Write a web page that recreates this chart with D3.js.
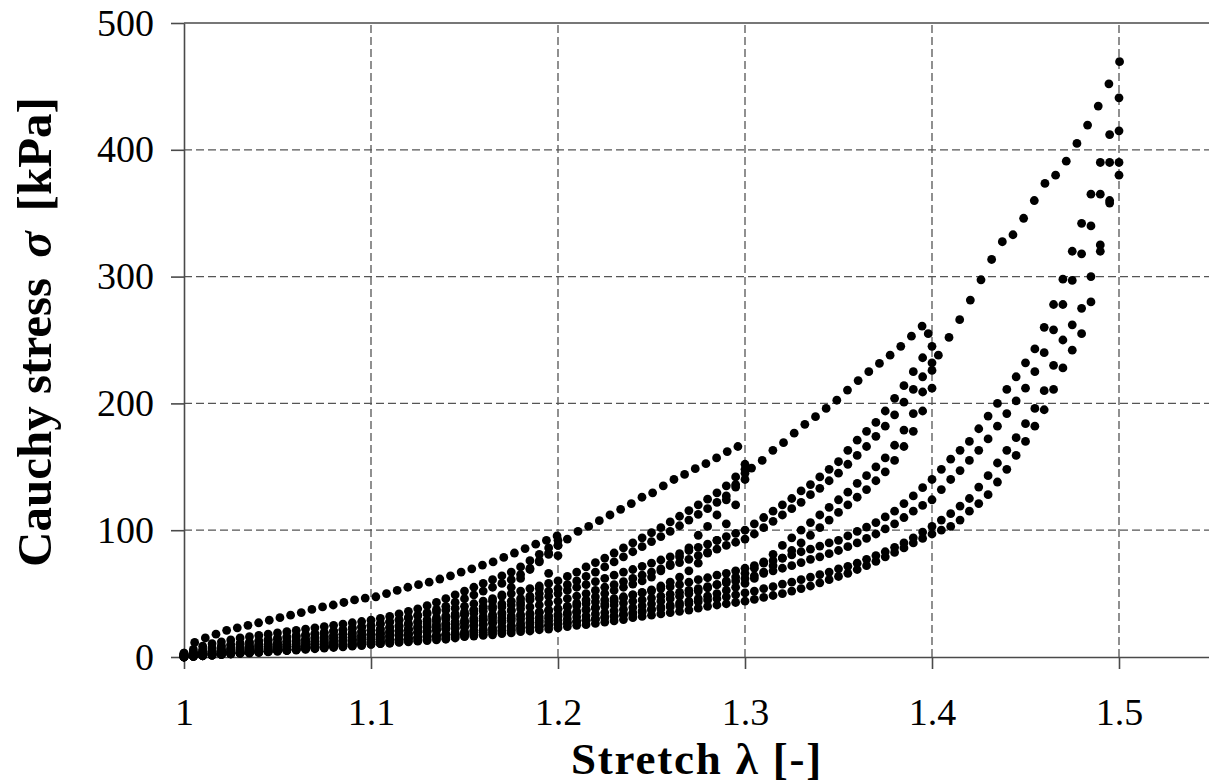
<!DOCTYPE html>
<html>
<head>
<meta charset="utf-8">
<script src="https://cdn.jsdelivr.net/npm/d3@7"></script>
<style>
  body { margin: 0; background: #fff; }
  svg { display: block; }
  .tick text { font-family: "Liberation Serif", "Times New Roman", serif; fill: #000; }
</style>
</head>
<body>
<svg id="chart" width="1209" height="784"></svg>
<script>
// first (virgin) loading, read dot by dot
var virginStretch = [1.0000,1.0057,1.0114,1.0171,1.0228,1.0285,1.0342,1.0399,1.0456,1.0513,
  1.0570,1.0627,1.0684,1.0741,1.0798,1.0855,1.0912,1.0969,1.1026,1.1083,
  1.1140,1.1197,1.1254,1.1311,1.1368,1.1425,1.1482,1.1539,1.1596,1.1653,
  1.1710,1.1767,1.1824,1.1881,1.1938,1.1995,
  1.2050,1.2107,1.2164,1.2221,1.2278,1.2335,1.2392,1.2449,1.2506,1.2563,
  1.2620,1.2677,1.2734,1.2791,1.2848,1.2905,1.2962,
  1.3035,1.3092,1.3149,1.3206,1.3263,1.3320,1.3377,1.3434,1.3491,1.3548,
  1.3605,1.3662,1.3719,1.3776,1.3833,1.3890,1.3947,1.3980,
  1.4034,1.4091,1.4148,1.4205,1.4262,1.4319,1.4376,1.4433,1.4490,1.4547,
  1.4604,1.4661,1.4718,1.4775,1.4832,1.4889,1.4946,1.5003];
var virginStress = [3,11.5,15,18,21,23,25,27,29,31,
  33,35,37.5,39.5,41,43,45,46.5,47.5,50,
  52.5,55,57,59,61.5,64,67,69.5,72.5,75,
  78.5,82,85.5,89,92,95.5,
  93,99,103,107.5,112,116.5,121,126,129.5,135,
  140,144,148.5,152.5,157,162,166,
  149,155,163,169,176.5,183.5,189.5,196,202.5,210.5,
  218,225,231.5,238,245,253,261,255,
  238,252,266,281.5,297.5,313.5,327.5,333,346,360,
  373.5,380,391,405,419.5,434.5,452,469.5];

// stretch values of the later load / unload cycles
var stretch = [1.000,1.005,1.010,1.015,1.020,1.025,1.030,1.035,1.040,1.045,
  1.050,1.055,1.060,1.065,1.070,1.075,1.080,1.085,1.090,1.095,
  1.100,1.105,1.110,1.115,1.120,1.125,1.130,1.135,1.140,1.145,
  1.150,1.155,1.160,1.165,1.170,1.175,1.180,1.185,1.190,1.195,
  1.200,1.205,1.210,1.215,1.220,1.225,1.230,1.235,1.240,1.245,
  1.250,1.255,1.260,1.265,1.270,1.275,1.280,1.285,1.290,1.295,
  1.300,1.305,1.310,1.315,1.320,1.325,1.330,1.335,1.340,1.345,
  1.350,1.355,1.360,1.365,1.370,1.375,1.380,1.385,1.390,1.395,
  1.400,1.405,1.410,1.415,1.420,1.425,1.430,1.435,1.440,1.445,
  1.450,1.455,1.460,1.465,1.470,1.475,1.480,1.485,1.490,1.495,1.500];

// cycles up to 1.2
var reload12a = [3,6,8.5,10.5,12,13.5,15,16,17,18,19,20,21,22,23,24,25,26,27,28,
  29,30.5,32,34,36,38,40.5,43,46,49,52,55,58,61,64,67,71,76,81,86,92];
var reload12b = [2,4,6,7.5,9,10,11,12,13,14,15,16,17,17.5,18.5,19.5,20.5,21.5,22.5,23.5,
  24.5,26,27.5,29,31,33,35,37.5,40,43,46,49,52,55,58,61,65,70,75,81,88];
var unload12a = [1,2,2.5,3,3.5,4,5,5.5,6,6.5,7,8,8.5,9,10,11,12,13,14,15.5,
  17,18,19,20.5,22,24,26,28,30,32,34,37,40,44,49,55,62,69,76,82,88];
var unload12b = [0,1,1.5,2,2.5,3,3.5,4,4.5,5,5.5,6,6.5,7,8,9,10,11,12,13,
  14,15,16,17,18,19.5,21,22.5,24,25.5,27,28.5,30,32,34,37,41,46,54,66,80];

// cycles up to 1.3
var reload13a = [2,3.5,5,6.5,8,9,10,11,12,13,14,15,16,17,18,19,20.5,21.5,23,24,
  25,26.5,28,29.5,31,32.5,34,35.5,37,38.5,40,42,44,46,48,50,52,54,56,58,
  60,63.5,67,71,74.5,78,82,86,90,94,98,102,106.5,111,115.5,120,124.5,129.5,135,142,152];
var reload13b = [1,2.5,3.5,4.5,5.5,6.5,7.5,8.5,9.5,10.5,11.5,12.5,13.5,14,15,16,17,18,19,20,
  21,22,23.5,25,26.5,28,29.5,31,32.5,34,35.5,37,38.5,40,42,44,46,48,50,52,
  54,57,60,63.5,67,71,75,79,83,87,91,95,99,103.5,108,112.5,117,122,127,134,145];
var unload13a = [1,1.5,2,2.5,3,3.5,4,5,5.5,6,7,7.5,8,9,10,10.5,11,12,13,13.5,
  14,15,16,17,18,19,20,21,22,23,24,25,26,27.5,29,30.5,32,33.5,35,36.5,
  38,40,42.5,45,47.5,50,52.5,55,57.5,60,63,68,73,79,86,96,103,112,124,136,148];
var unload13b = [0,1,1.5,2,2.5,3,3.5,4,4.5,5,5.5,6,7,7.5,8,8.5,9,10,10.5,11,
  12,12.5,13.5,14,15,15.5,16.5,17,18,19,20,21,22,23,24,25,26.5,27.5,29,30.5,
  32,33.5,35,37,39,42,44,46.5,49,51,53,56,59,63,68,74,82,92,105,120,140];

// cycles up to 1.4
var reload14a = [2,3,4,5,6,7,8,8.5,9.5,10,11,12,13,14,15,16,17,18,19,20,
  21,22,23,24,25.5,27,28,29.5,31,32,33,34.5,36,38,39.5,41,43,45,46.5,48,
  50,52.5,55,57,59.5,62,64.5,67,69,71.5,74,76.5,79,81.5,84,86.5,89,92,95,97.5,
  100,105,110,115,120,125,131,136,142,148,154,163,171,178,185,194,204,214,225,236,245];
var reload14b = [1,2,3,4,5,5.5,6.5,7,8,8.5,9.5,10,11,12,12.5,13.5,14.5,15.5,16.5,17,
  18,19,20,21,22,23,24,25.5,26.5,28,29,30.5,32,33.5,35,36.5,38,39.5,41,42.5,
  44,46,48,50,52.5,55,57,59.5,62,64.5,67,69.5,72,74.5,77,80,82.5,85,88,90.5,
  93,97,102,107,112,117,122,128,133,139,145,152,159,166,174,182,191,201,211,221,232];
var unload14a = [0,0.5,1,1.5,2,2.5,3,3.5,4,4.5,5,5.5,6,6.5,7.5,8,8.5,9.5,10,10.5,
  11,12,13,13.5,14.5,15,16,17,17.5,18,19,20,21,22,23,24,25,26,27,28,
  29,30,31.5,32.5,34,35,36.5,37.5,39,40.5,42,44,46,48,50,52,54.5,57,60,63,
  66,70,75,81,88,94,100,106,112,118,124,130,137,143,150,157,167,179,192,209,226];
var unload14b = [0,0.5,1,1.5,2,2.5,3,3,3.5,4,4.5,5,5.5,6,6.5,7,7.5,8,8.5,9,
  10,10.5,11,12,12.5,13,14,14.5,15,16,16.5,17.5,18,19,20,21,22,23,24,25,
  26,27,28,29,30,31.5,32.5,34,35,36.5,38,39.5,41,42.5,44,46,48,50,52.5,55,
  58,62,67,72,78,84,90,96,102,108,114,120,126,132,139,146,155,166,178,194,212];

// cycles up to 1.5
var reload15a = [1,2,3,4,4.5,5.5,6,7,7.5,8,9,10,11,11.5,12.5,13.5,14.5,15,16,17,
  18,19,20,20.5,21.5,22.5,23.5,24.5,25.5,26,27,28,29,30,31,32.5,33.5,34.5,35.5,37,
  38,39.5,40.5,42,43.5,45,46,47.5,49,50.5,52,54,55.5,57,59,61,62.5,64.5,66,68,
  70,72,74,76,78,80.5,83,85,87.5,90,92,95.5,99,102.5,106,110.5,115,121,127,133.5,
  140,148,156,163,170,180,190,200,211,221,232,243,260,278,298,320,342,365,390,412,441];
var reload15b = [1,1.5,2.5,3,4,4.5,5,6,6.5,7,7.5,8.5,9,10,10.5,11.5,12,13,14,14.5,
  15.5,16,17,18,18.5,19.5,20,21,22,22.5,23.5,24.5,25.5,26.5,27.5,28.5,29.5,30.5,31.5,32.5,
  33.5,35,36,37.5,38.5,40,41,42.5,44,45,46.5,48,49.5,51,52.5,54,55.5,57,58.5,60,
  62,64,66,68,70,72,74.5,77,79,81.5,84,87,90,93.5,97,101,105,110,115,119.5,
  124,132,140,147,155,163,172,182,192,202,212,225,240,258,278,297,318,340,365,390,415];
var unload15a = [0,0.5,1,1.5,2,2.5,3,3.5,4,4.5,5,5.5,6,7,7.5,8,9,9.5,10.5,11,
  12,12.5,13,14,14.5,15,16,16.5,17,17.5,18,19,19.5,20.5,21,22,23,23.5,24.5,25,
  26,27,28,29,30,31,32,33,34,35.5,37,38,39.5,40.5,42,43.5,45,46,47.5,49,
  50.5,52,54,55.5,57.5,59,61,63,65,67,69.5,71.5,74,77,80,83,86.5,90,94,98.5,
  103,108,113,119,125,134,143,153,163,173,184,196,210,230,250,262,275,300,325,360,390];
var unload15b = [0,0.5,1,1.5,2,2.5,3,3.5,4,4.5,5,5.5,6,6.5,7,7.5,8,8.5,9,9.5,
  10,10.5,11,11.5,12,12.5,13,13.5,14,15,16,16.5,17,17.5,18.5,19,20,20.5,21.5,22,
  23,24,25,25.5,26.5,27.5,28.5,29.5,31,32,33,34,35,36,37,38.5,40,41,42,43,
  44,45.5,47,48.5,50,52,54,56,58.5,61,63.5,66,69,72,75.5,79,82.5,86,90,93.5,
  97,100,103,108,115,121,128,138,148,159,170,182,195,211,228,242,255,280,320,358,380];

var cycles = [
  reload12a, reload12b, unload12a, unload12b,
  reload13a, reload13b, unload13a, unload13b,
  reload14a, reload14b, unload14a, unload14b,
  reload15a, reload15b, unload15a, unload15b];

var xTicks = [1, 1.1, 1.2, 1.3, 1.4, 1.5];
var yTicks = [0, 100, 200, 300, 400, 500];

var svg = d3.select('#chart');

var x = d3.scaleLinear().domain([1, 1.55]).range([184, 1212.5]);
var y = d3.scaleLinear().domain([0, 500]).range([657, 23]);

var axisColor = '#4a4a4a';

// grid
var grid = svg.append('g').attr('class', 'grid')
    .attr('stroke', '#555').attr('stroke-width', 1.3).attr('stroke-dasharray', '8,4');
grid.selectAll('line.h')
    .data(yTicks.filter(function(d) { return d > 0 && d < 500; }))
    .enter().append('line')
    .attr('class', 'h')
    .attr('x1', x(1)).attr('x2', x(1.55))
    .attr('y1', function(d) { return y(d); })
    .attr('y2', function(d) { return y(d); });
grid.selectAll('line.v')
    .data(xTicks.filter(function(d) { return d > 1; }))
    .enter().append('line')
    .attr('class', 'v')
    .attr('y1', y(0)).attr('y2', y(500))
    .attr('x1', function(d) { return x(d); })
    .attr('x2', function(d) { return x(d); });

// top frame
svg.append('line')
    .attr('x1', x(1)).attr('x2', x(1.55))
    .attr('y1', y(500)).attr('y2', y(500))
    .attr('stroke', axisColor).attr('stroke-width', 1.6);

// axes
var xAxis = svg.append('g')
    .attr('transform', 'translate(0,' + y(0) + ')')
    .call(d3.axisBottom(x)
      .tickValues(xTicks)
      .tickSize(12)
      .tickSizeOuter(0)
      .tickPadding(29)
      .tickFormat(d3.format('.1~f')));

var yAxis = svg.append('g')
    .attr('transform', 'translate(' + x(1) + ',0)')
    .call(d3.axisLeft(y)
      .tickValues(yTicks)
      .tickSize(13)
      .tickSizeOuter(0)
      .tickPadding(17));

[xAxis, yAxis].forEach(function(a) {
  a.select('.domain').attr('stroke', axisColor).attr('stroke-width', 1.6);
  a.selectAll('.tick line').attr('stroke', axisColor).attr('stroke-width', 1.6);
  a.selectAll('.tick text').attr('font-size', 38);
});

// dots
var dots = svg.append('g').attr('class', 'dots');
function drawDots(xs, values) {
  dots.selectAll(null)
    .data(values.map(function(v, i) { return [xs[i], v]; }))
    .enter().append('circle')
    .attr('cx', function(d) { return x(d[0]); })
    .attr('cy', function(d) { return y(d[1]); })
    .attr('r', 4.4)
    .attr('fill', '#000');
}
drawDots(virginStretch, virginStress);
cycles.forEach(function(values) { drawDots(stretch, values); });

// axis titles
svg.append('text')
    .attr('x', 697).attr('y', 774)
    .attr('text-anchor', 'middle')
    .attr('font-family', '"Liberation Serif", "Times New Roman", serif')
    .attr('font-weight', 'bold')
    .attr('font-size', 45)
    .attr('letter-spacing', 1.8)
    .text('Stretch \u03bb [-]');

var yTitle = svg.append('text')
    .attr('transform', 'translate(51,332) rotate(-90)')
    .attr('text-anchor', 'middle')
    .attr('font-family', '"Liberation Serif", "Times New Roman", serif')
    .attr('font-weight', 'bold')
    .attr('font-size', 49);
yTitle.append('tspan').text('Cauchy stress');
yTitle.append('tspan').attr('dx', 20).attr('font-style', 'italic').text('\u03c3');
yTitle.append('tspan').attr('dx', 20).text('[kPa]');
</script>
</body>
</html>
